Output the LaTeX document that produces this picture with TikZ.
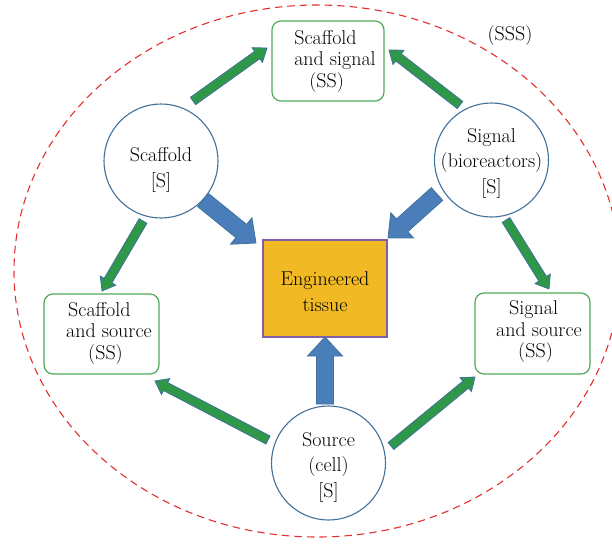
\documentclass[tikz,border=0pt]{standalone}
\usetikzlibrary{calc}
\definecolor{boxgreen}{RGB}{80,170,88}
\definecolor{circblue}{RGB}{65,113,156}
\definecolor{arrgreen}{RGB}{46,152,72}
\definecolor{arrblue}{RGB}{74,126,187}
\definecolor{tissuefill}{RGB}{241,185,36}
\definecolor{tissueedge}{RGB}{127,95,168}
\definecolor{dashred}{RGB}{226,48,48}
\newcommand\fatarrow[6]{%
  \path[#1] let \p1=(#2), \p2=(#3), \n1={atan2(\y2-\y1,\x2-\x1)}, \n2={veclen(\x2-\x1,\y2-\y1)} in
  [shift={(\p1)}, rotate=\n1] (0pt,-#4pt) -- ({\n2-#6pt},-#4pt) -- ({\n2-#6pt},-#5pt) -- ({\n2+0pt},0pt)
  -- ({\n2-#6pt},#5pt) -- ({\n2-#6pt},#4pt) -- (0pt,#4pt) -- cycle;}
\begin{document}
\begin{tikzpicture}[x=1pt,y=-1pt,
  txt/.style={font=\fontsize{20}{21}\selectfont, inner sep=0pt},
  circtxt/.style={align=center, font=\fontsize{20}{25.5}\selectfont, inner sep=0pt},
  boxtxt/.style={align=left, font=\fontsize{20}{21.5}\selectfont, inner sep=0pt},
  ssbox/.style={draw=boxgreen, line width=1.2pt, rounded corners=9pt, fill=white},
  sbox/.style={circle, draw=circblue, line width=1.1pt, minimum size=114pt, inner sep=0pt, fill=white},
  tissue/.style={draw=tissueedge, line width=1.1pt, fill=tissuefill},
  garrow/.style={fill=arrgreen, draw=circblue, line width=0.8pt},
  barrow/.style={fill=arrblue, draw=circblue, line width=0.8pt},
  outer/.style={draw=dashred, line width=1.1pt, dash pattern=on 7.5pt off 5pt}]
\useasboundingbox (0,0) rectangle (612,543);
\begin{scope}
  \clip (0,0) rectangle (612,543);
  \draw[outer] (317,271) ellipse [x radius=303, y radius=266];
\end{scope}
% shapes
\node[ssbox, minimum width=112pt, minimum height=80pt] (ssig) at (328,61) {};
\node[ssbox, minimum width=115pt, minimum height=80pt] (sscaf) at (101.5,334) {};
\node[ssbox, minimum width=115pt, minimum height=81pt] (ssrc) at (532.5,333.5) {};
\node[sbox] (scaf) at (161,161) {};
\node[sbox] (sig) at (491.5,160) {};
\node[sbox] (src) at (328.5,463) {};
\node[tissue, minimum width=124pt, minimum height=97pt] (tis) at (325,288.5) {};
% texts
\node[boxtxt] (ssigT) at (335,61) {Scaffold\\and signal\\\hspace*{15pt}(SS)};
\node[boxtxt] (sscafT) at (109,333) {\hspace*{2pt}Scaffold\\and source\\\hspace*{22pt}(SS)};
\node[boxtxt] (ssrcT) at (539,332) {\hspace*{13pt}Signal\\and source\\\hspace*{22pt}(SS)};
\node[circtxt] (scafT) at (161,170) {Scaffold\\{[S]}};
\node[circtxt] (sigT) at (491.5,163) {Signal\\(bioreactors)\\{[S]}};
\node[circtxt] (srcT) at (328.5,467) {Source\\(cell)\\{[S]}};
\node[circtxt, font=\fontsize{20}{26}\selectfont] (tisT) at (325,292) {Engineered\\tissue};
\node[txt] (sss) at (510,36) {(SSS)};
% connector end points
\coordinate (g1a) at (193,101); \coordinate (g1b) at (267,48);
\coordinate (g2a) at (460,105); \coordinate (g2b) at (389,50);
\coordinate (g3a) at (143,221); \coordinate (g3b) at (102,291);
\coordinate (g4a) at (506,220); \coordinate (g4b) at (549,289);
\coordinate (g5a) at (268,440); \coordinate (g5b) at (155,381);
\coordinate (g6a) at (391,446); \coordinate (g6b) at (475,377);
\coordinate (b1a) at (203,200); \coordinate (b1b) at (256,243);
\coordinate (b2a) at (437,194); \coordinate (b2b) at (388,238);
\coordinate (b3a) at (325,404); \coordinate (b3b) at (325,337);
% arrows
\fatarrow{garrow}{g1a}{g1b}{4.5}{9}{12}
\fatarrow{garrow}{g2a}{g2b}{4.5}{9}{12}
\fatarrow{garrow}{g3a}{g3b}{4.5}{9}{12}
\fatarrow{garrow}{g4a}{g4b}{4.5}{9}{12}
\fatarrow{garrow}{g5a}{g5b}{4.5}{9}{12}
\fatarrow{garrow}{g6a}{g6b}{4.5}{9}{12}
\fatarrow{barrow}{b1a}{b1b}{8.5}{17}{19}
\fatarrow{barrow}{b2a}{b2b}{8.5}{17}{19}
\fatarrow{barrow}{b3a}{b3b}{8.5}{17.5}{19}
\end{tikzpicture}
\end{document}
